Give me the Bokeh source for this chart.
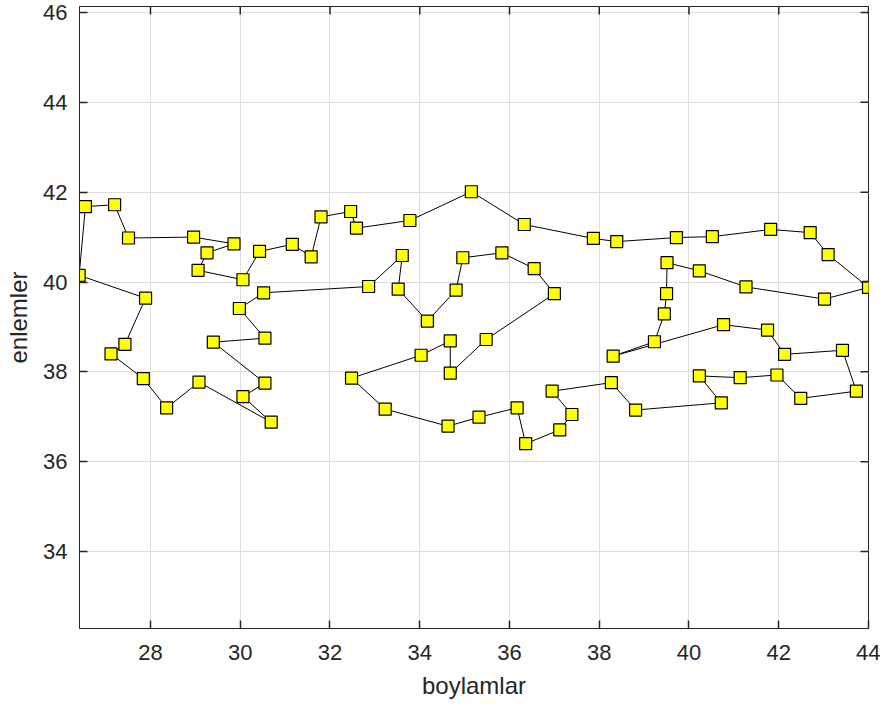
from bokeh.plotting import figure
from bokeh.models import Range1d, FixedTicker
from bokeh.embed import file_html
from bokeh.resources import INLINE

# Tour order (longitude, latitude)
cities = ["Edirne", "Kırklareli", "Tekirdağ", "İstanbul", "Kocaeli", "Yalova", "Bursa", "Bilecik",
          "Sakarya", "Düzce", "Bolu", "Zonguldak", "Bartın", "Karabük", "Kastamonu", "Sinop",
          "Samsun", "Ordu", "Giresun", "Trabzon", "Rize", "Artvin", "Ardahan", "Kars", "Iğdır",
          "Ağrı", "Erzurum", "Bayburt", "Gümüşhane", "Erzincan", "Tunceli", "Elazığ", "Malatya",
          "Bingöl", "Muş", "Bitlis", "Van", "Hakkari", "Şırnak", "Siirt", "Batman", "Diyarbakır",
          "Mardin", "Şanlıurfa", "Adıyaman", "Kahramanmaraş", "Gaziantep", "Kilis", "Hatay",
          "Osmaniye", "Adana", "Mersin", "Karaman", "Konya", "Aksaray", "Nevşehir", "Niğde",
          "Kayseri", "Sivas", "Tokat", "Amasya", "Çorum", "Yozgat", "Kırşehir", "Kırıkkale",
          "Çankırı", "Ankara", "Eskişehir", "Kütahya", "Afyon", "Uşak", "Isparta", "Burdur",
          "Antalya", "Denizli", "Muğla", "Aydın", "İzmir", "Manisa", "Balıkesir", "Çanakkale"]

lon = [26.55, 27.20, 27.51, 28.96, 29.86, 29.26, 29.06, 30.06,
       30.43, 31.16, 31.58, 31.80, 32.46, 32.59, 33.78, 35.15,
       36.33, 37.87, 38.39, 39.72, 40.52, 41.82, 42.70, 43.10, 44.00,
       43.02, 41.27, 40.23, 39.51, 39.50, 39.45, 39.23, 38.31,
       40.77, 41.75, 42.13, 43.42, 43.73, 42.49, 41.96, 41.14, 40.23,
       40.72, 38.81, 38.27, 36.95, 37.39, 37.12, 36.36,
       36.17, 35.32, 34.63, 33.23, 32.48, 34.03, 34.68, 34.68,
       35.48, 37.00, 36.55, 35.83, 34.96, 34.81, 34.17, 33.52,
       33.61, 32.86, 30.52, 29.98, 30.55, 29.40, 30.55, 30.06,
       30.69, 29.08, 28.36, 27.84, 27.12, 27.43, 27.89, 26.41]

lat = [41.68, 41.72, 40.98, 41.00, 40.85, 40.65, 40.26, 40.05,
       40.68, 40.84, 40.56, 41.45, 41.57, 41.20, 41.37, 42.01,
       41.28, 40.97, 40.90, 40.99, 41.01, 41.17, 41.10, 40.61, 39.88,
       39.62, 39.89, 40.25, 40.43, 39.74, 39.29, 38.67, 38.35,
       39.05, 38.93, 38.39, 38.48, 37.57, 37.41, 37.93, 37.87, 37.91,
       37.31, 37.15, 37.76, 37.57, 37.05, 36.71, 36.40,
       37.20, 36.99, 36.79, 37.17, 37.86, 38.37, 38.69, 37.97,
       38.72, 39.74, 40.30, 40.65, 40.54, 39.82, 39.13, 39.84,
       40.59, 39.90, 39.76, 39.41, 38.75, 38.66, 37.75, 37.45,
       36.88, 37.77, 37.20, 37.85, 38.40, 38.61, 39.64, 40.15]

x_ticks = [28, 30, 32, 34, 36, 38, 40, 42, 44]
y_ticks = [34, 36, 38, 40, 42, 44, 46]
x_label = "boylamlar"
y_label = "enlemler"

# closed tour
path_x = lon + [lon[0]]
path_y = lat + [lat[0]]

FONT = "Liberation Sans"
AX = "#262626"

X0, X1 = 26.418, 44.0
Y0, Y1 = 32.286, 46.134
FW, FH = 789, 622  # frame size in px

p = figure(width=880, height=708, output_backend="svg", toolbar_location=None,
           x_range=Range1d(X0, X1), y_range=Range1d(Y0, Y1),
           min_border_left=79, min_border_right=12, min_border_top=6, min_border_bottom=80)
p.background_fill_color = "white"
p.border_fill_color = "white"
p.outline_line_color = AX
p.outline_line_width = 1

p.line(path_x, path_y, line_color="black", line_width=1)
p.scatter(lon, lat, marker="square", size=12, fill_color="#ffff00",
          line_color="black", line_width=1.2)

for ax in (p.xaxis[0], p.yaxis[0]):
    ax.major_tick_in = 8
    ax.major_tick_out = 0
    ax.minor_tick_in = 0
    ax.minor_tick_out = 0
    ax.axis_line_color = AX
    ax.major_tick_line_color = AX
    ax.major_tick_line_width = 1.5
    ax.major_label_text_font = FONT
    ax.major_label_text_font_size = "22px"
    ax.major_label_text_color = AX
    ax.axis_label_text_font = FONT
    ax.axis_label_text_font_size = "24px"
    ax.axis_label_text_font_style = "normal"
    ax.axis_label_text_color = AX

p.xaxis[0].ticker = FixedTicker(ticks=x_ticks)
p.yaxis[0].ticker = FixedTicker(ticks=y_ticks)
p.xaxis[0].axis_label = x_label
p.yaxis[0].axis_label = y_label
p.xaxis[0].major_label_standoff = 16
p.xaxis[0].axis_label_standoff = 9
p.yaxis[0].major_label_standoff = 12
p.yaxis[0].axis_label_standoff = 8

p.xgrid.ticker = FixedTicker(ticks=x_ticks)
p.ygrid.ticker = FixedTicker(ticks=y_ticks)
p.grid.grid_line_color = "#dedede"
p.grid.grid_line_width = 1

# box ticks on top and right edges (8 px inward)
dy = 8 * (Y1 - Y0) / FH
dx = 8 * (X1 - X0) / FW
p.segment(x0=x_ticks, y0=[Y1] * len(x_ticks), x1=x_ticks, y1=[Y1 - dy] * len(x_ticks),
          line_color=AX, line_width=1.5)
p.segment(x0=[X1] * len(y_ticks), y0=y_ticks, x1=[X1 - dx] * len(y_ticks), y1=y_ticks,
          line_color=AX, line_width=1.5)

open("out.html", "w").write(file_html(p, INLINE))
